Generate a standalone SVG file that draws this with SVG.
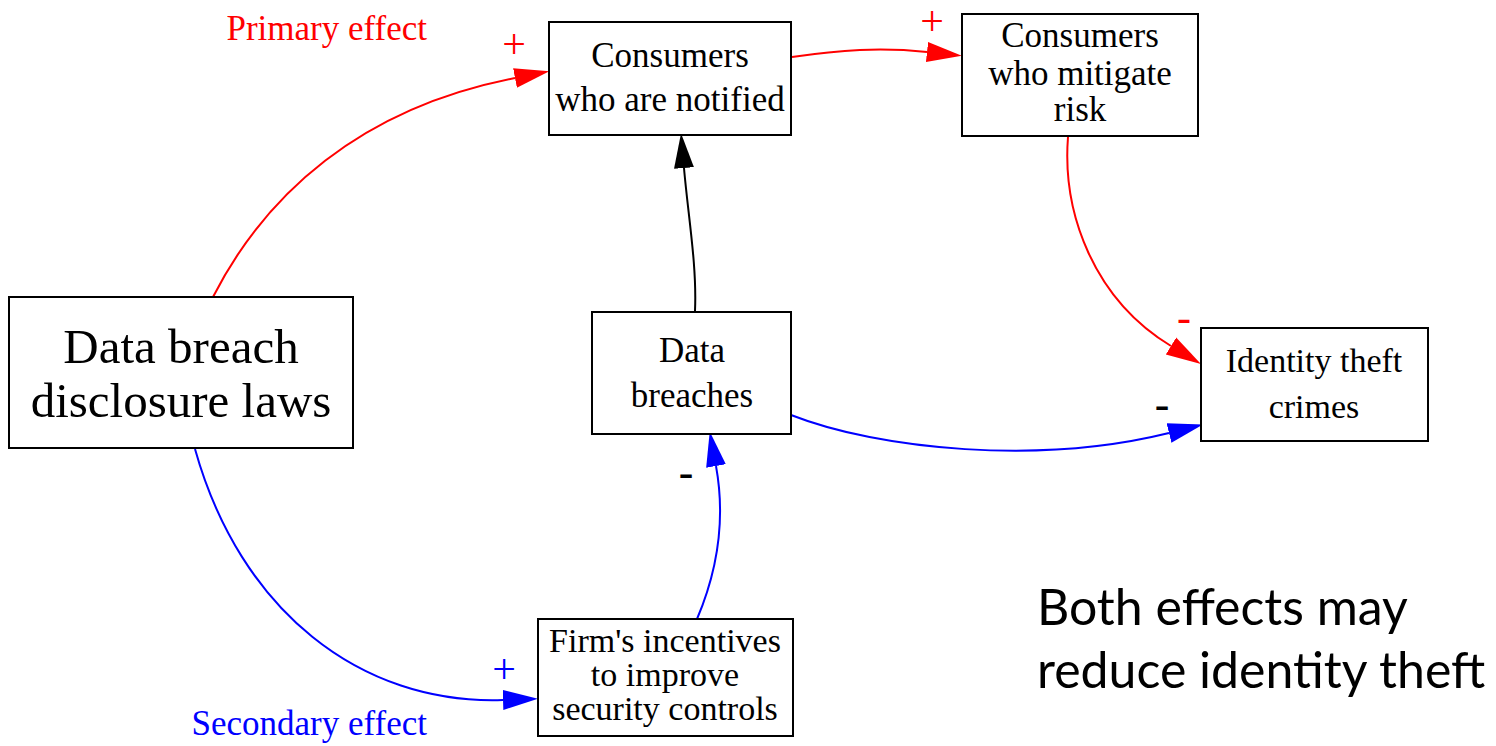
<svg xmlns="http://www.w3.org/2000/svg" width="1496" height="746" viewBox="0 0 1496 746">
  <style>
    .box { fill: #ffffff; stroke: #000000; stroke-width: 2; }
    .lbl { font-family: "Liberation Serif", "Times New Roman", serif; fill: #000000; text-anchor: middle; }
    .edge { fill: none; stroke-width: 2; }
    .red { stroke: #ff0000; }
    .blue { stroke: #0000ff; }
    .black { stroke: #000000; }
    .sign { font-family: "Liberation Serif", "Times New Roman", serif; font-size: 42px; text-anchor: middle; }
    .dash { font-family: Lato, "Open Sans", sans-serif; font-size: 46px; text-anchor: middle; fill: #000000; }
    .caption { font-family: "Liberation Serif", "Times New Roman", serif; font-size: 35px; text-anchor: end; }
    .note { font-family: Lato, "Open Sans", sans-serif; font-size: 50px; fill: #000000; }
  </style>
  <defs>
    <marker id="arrow-red" markerUnits="userSpaceOnUse" markerWidth="36" markerHeight="22" refX="0" refY="11" orient="auto">
      <path d="M0,1 L35,11 L0,21 Z" fill="#ff0000"/>
    </marker>
    <marker id="arrow-blue" markerUnits="userSpaceOnUse" markerWidth="36" markerHeight="22" refX="0" refY="11" orient="auto">
      <path d="M0,1 L35,11 L0,21 Z" fill="#0000ff"/>
    </marker>
    <marker id="arrow-black" markerUnits="userSpaceOnUse" markerWidth="36" markerHeight="22" refX="0" refY="11" orient="auto">
      <path d="M0,1 L35,11 L0,21 Z" fill="#000000"/>
    </marker>
  </defs>

  <rect width="1496" height="746" fill="#ffffff"/>

  <!-- causal links -->
  <g id="connectors">
    <path class="edge red" d="M213,297 C265,195 360,108 515,78" marker-end="url(#arrow-red)"/>
    <path class="edge red" d="M792,57 C840,50 880,47 927,52" marker-end="url(#arrow-red)"/>
    <path class="edge red" d="M1068,137 C1062,215 1095,300 1171,346" marker-end="url(#arrow-red)"/>
    <path class="edge black" d="M695,311 C697,265 688,215 684,168" marker-end="url(#arrow-black)"/>
    <path class="edge blue" d="M791,415 C880,450 1040,465 1169,433" marker-end="url(#arrow-blue)"/>
    <path class="edge blue" d="M697,619 C722,560 724,510 716,466" marker-end="url(#arrow-blue)"/>
    <path class="edge blue" d="M195,449 C240,610 360,705 503,700" marker-end="url(#arrow-blue)"/>

    <!-- polarity signs -->
    <text class="sign" x="514" y="58" fill="#ff0000">+</text>
    <text class="sign" x="932" y="35" fill="#ff0000">+</text>
    <text class="sign" x="1184" y="331" fill="#ff0000">-</text>
    <text class="sign" x="504" y="683" fill="#0000ff">+</text>
    <text class="dash" x="1162" y="422">-</text>
    <text class="dash" x="686" y="490">-</text>

    <text class="caption" x="427" y="40" fill="#ff0000">Primary effect</text>
    <text class="caption" x="427" y="735" fill="#0000ff">Secondary effect</text>
  </g>

  <g id="node-laws">
    <rect class="box" x="9" y="297" width="344" height="151"/>
    <text class="lbl" font-size="49" x="181" y="363">Data breach</text>
    <text class="lbl" font-size="49" x="181" y="417">disclosure laws</text>
  </g>

  <g id="node-notified">
    <rect class="box" x="549" y="22" width="242" height="113"/>
    <text class="lbl" font-size="35" x="670" y="67">Consumers</text>
    <text class="lbl" font-size="35" x="670" y="111">who are notified</text>
  </g>

  <g id="node-mitigate">
    <rect class="box" x="962" y="14" width="236" height="122"/>
    <text class="lbl" font-size="35" x="1080" y="47">Consumers</text>
    <text class="lbl" font-size="35" x="1080" y="85">who mitigate</text>
    <text class="lbl" font-size="35" x="1080" y="121">risk</text>
  </g>

  <g id="node-breaches">
    <rect class="box" x="592" y="312" width="199" height="122"/>
    <text class="lbl" font-size="35" x="692" y="362">Data</text>
    <text class="lbl" font-size="35" x="692" y="407">breaches</text>
  </g>

  <g id="node-identity-theft">
    <rect class="box" x="1201" y="328" width="227" height="113"/>
    <text class="lbl" font-size="34" x="1314" y="372">Identity theft</text>
    <text class="lbl" font-size="34" x="1314" y="418">crimes</text>
  </g>

  <g id="node-incentives">
    <rect class="box" x="538" y="619" width="255" height="117"/>
    <text class="lbl" font-size="34" x="665" y="652">Firm's incentives</text>
    <text class="lbl" font-size="34" x="665" y="686">to improve</text>
    <text class="lbl" font-size="34" x="665" y="720">security controls</text>
  </g>

  <g id="note">
    <text class="note" x="1037" y="625">Both effects may</text>
    <text class="note" x="1037" y="688">reduce identity theft</text>
  </g>
</svg>
